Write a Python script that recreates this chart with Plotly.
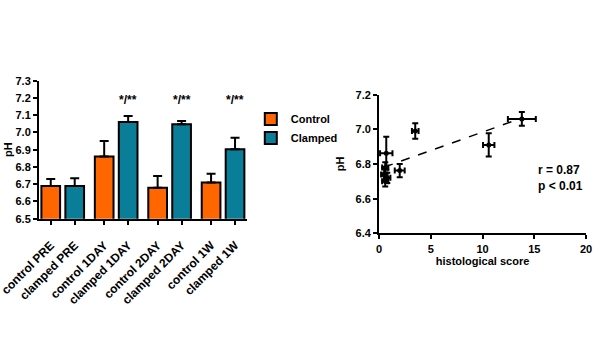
import plotly.graph_objects as go

# ---- data: bar chart ----
groups = ["PRE", "1DAY", "2DAY", "1W"]
control_ph = [6.69, 6.86, 6.68, 6.71]
control_err = [0.04, 0.09, 0.067, 0.05]
clamped_ph = [6.69, 7.06, 7.047, 6.902]
clamped_err = [0.045, 0.035, 0.02, 0.068]
tick_labels = ["control PRE", "clamped PRE", "control 1DAY", "clamped 1DAY",
               "control 2DAY", "clamped 2DAY", "control 1W", "clamped 1W"]
sig_label = "*/**"
sig_groups = [1, 2, 3]

# ---- data: scatter ----
hist_score = [0.7, 0.6, 0.5, 0.8, 0.6, 2.0, 3.5, 10.6, 13.8]
hist_err = [0.6, 0.3, 0.3, 0.3, 0.3, 0.48, 0.32, 0.55, 1.35]
ph_vals = [6.862, 6.78, 6.74, 6.72, 6.70, 6.762, 6.99, 6.91, 7.06]
ph_err = [0.095, 0.03, 0.04, 0.03, 0.03, 0.038, 0.045, 0.067, 0.04]
fit_x = [0.5, 13.8]
fit_y = [6.782, 7.065]
r_text = "r = 0.87"
p_text = "p < 0.01"

ORANGE = "#FF6600"
TEAL = "#0A7E98"
PAIR_STEP = 2.23
FONT = dict(family="Arial, Liberation Sans, sans-serif", color="black", size=11, weight="bold")

ctrl_pos = [i * PAIR_STEP for i in range(len(groups))]
clmp_pos = [i * PAIR_STEP + 1 for i in range(len(groups))]
tick_pos = []
for a, b in zip(ctrl_pos, clmp_pos):
    tick_pos += [a, b]

fig = go.Figure()
fig.add_trace(go.Bar(
    x=ctrl_pos, y=control_ph, base=0, width=0.78, name="Control",
    marker=dict(color=ORANGE, line=dict(color="black", width=2)),
    error_y=dict(type="data", symmetric=False, array=control_err,
                 arrayminus=[0] * len(groups), color="black", thickness=2, width=4.5),
    xaxis="x", yaxis="y"))
fig.add_trace(go.Bar(
    x=clmp_pos, y=clamped_ph, base=0, width=0.78, name="Clamped",
    marker=dict(color=TEAL, line=dict(color="black", width=2)),
    error_y=dict(type="data", symmetric=False, array=clamped_err,
                 arrayminus=[0] * len(groups), color="black", thickness=2, width=4.5),
    xaxis="x", yaxis="y"))

for g in sig_groups:
    fig.add_annotation(x=clmp_pos[g], y=7.19, xref="x", yref="y", text=sig_label,
                       showarrow=False, font=dict(FONT, size=12))

fig.add_trace(go.Scatter(
    x=fit_x, y=fit_y, mode="lines", line=dict(color="black", width=1.5, dash="dash"),
    showlegend=False, xaxis="x2", yaxis="y2"))
fig.add_trace(go.Scatter(
    x=hist_score, y=ph_vals, mode="markers",
    marker=dict(color="black", size=5),
    error_x=dict(type="data", array=hist_err, color="black", thickness=2, width=3),
    error_y=dict(type="data", array=ph_err, color="black", thickness=2, width=3),
    showlegend=False, xaxis="x2", yaxis="y2"))

fig.add_annotation(x=0.893, y=0.505, xref="paper", yref="paper", xanchor="left",
                   yanchor="middle", align="left", showarrow=False,
                   text=r_text + "<br>" + p_text, font=dict(FONT, size=12))

axis_common = dict(showline=True, linecolor="black", linewidth=2, ticks="outside",
                   ticklen=4, tickwidth=2, tickcolor="black", showgrid=False,
                   zeroline=False, tickfont=FONT, automargin=False)

fig.update_layout(
    width=600, height=360, margin=dict(l=0, r=0, t=0, b=0),
    paper_bgcolor="white", plot_bgcolor="white", barmode="overlay",
    font=FONT,
    xaxis=dict(axis_common, domain=[0.065, 0.4117], range=[-0.49, 3 * PAIR_STEP + 1.5],
               tickvals=tick_pos, ticktext=tick_labels, tickangle=-45,
               ticklabeloverflow="allow", ticklabelstandoff=9,
               tickfont=dict(FONT, size=12)),
    yaxis=dict(axis_common, domain=[0.3925, 0.7758], range=[6.5, 7.3], dtick=0.1,
               tickformat=".1f", ticklabelstandoff=0,
               title=dict(text="pH", font=FONT, standoff=1)),
    xaxis2=dict(axis_common, domain=[0.6317, 0.9767], range=[0, 20], dtick=5,
                anchor="y2", title=dict(text="histological score", font=FONT, standoff=3)),
    yaxis2=dict(axis_common, domain=[0.3519, 0.737], range=[6.4, 7.2], dtick=0.2,
                tickformat=".1f", anchor="x2", ticklabelstandoff=0,
                title=dict(text="pH", font=FONT, standoff=9)),
    legend=dict(x=0.418, y=0.71, xanchor="left", yanchor="top", font=dict(FONT, size=11),
                bgcolor="rgba(0,0,0,0)", traceorder="normal", tracegroupgap=0,
                itemwidth=30),
)

fig.write_html("out.html", config={"displayModeBar": False},
               post_script="document.body.style.margin='0';")
